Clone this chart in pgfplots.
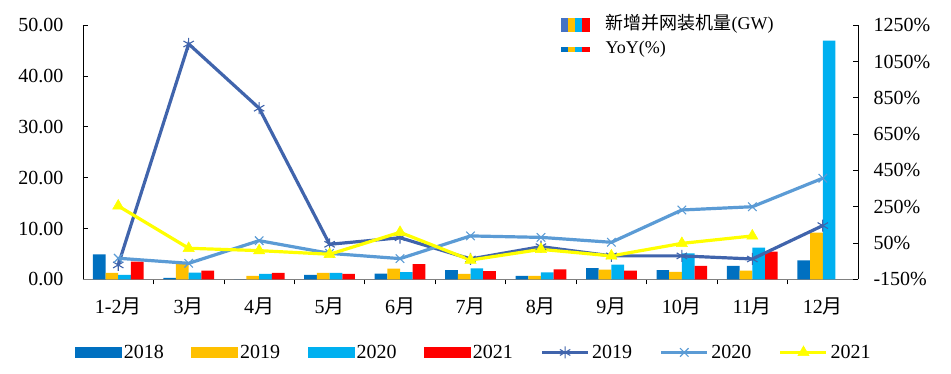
\documentclass[border=0pt]{standalone}
\usepackage{pgfplots}
\pgfplotsset{compat=1.18}
\usepackage{fontspec}
\setmainfont{Liberation Serif}
\newfontfamily\cjk{Noto Sans CJK SC}
\definecolor{c18}{HTML}{0070C0}
\definecolor{c19}{HTML}{FFC000}
\definecolor{c20}{HTML}{00B0F0}
\definecolor{c21}{HTML}{FF0000}
\definecolor{l19}{HTML}{4064AC}
\definecolor{l20}{HTML}{5B9BD5}
\definecolor{l21}{HTML}{FFFF00}
\definecolor{lb}{HTML}{4472C4}
\pgfplotsset{mylinelegend/.style={legend image code/.code={\draw[mark repeat=2,mark phase=2,##1] plot coordinates {(0pt,0pt) (23pt,0pt) (46pt,0pt)};}}}
\begin{document}
\begin{tikzpicture}[font=\fontsize{20}{24}\selectfont]
\path[use as bounding box] (-83pt,-94.7pt) rectangle (868pt,279.3pt);
% ---- bars, left axis
\begin{axis}[
  at={(0pt,0pt)}, anchor=south west,
  scale only axis, width=775pt, height=254pt,
  xmin=-0.5, xmax=10.5, ymin=0, ymax=50,
  axis x line*=bottom, axis y line*=left,
  x axis line style={-, draw=black!50, line width=1pt},
  y axis line style={-, draw=black, line width=0.8pt},
  tick align=inside, major tick length=5pt, minor tick length=5pt,
  tick style={black, line width=0.8pt},
  every major x tick/.append style={draw=none},
  ytick={0,10,...,50},
  xtick={0,...,10},
  minor xtick={0.5,1.5,...,9.5},
  xticklabels={1-2{\cjk 月},3{\cjk 月},4{\cjk 月},5{\cjk 月},6{\cjk 月},7{\cjk 月},8{\cjk 月},9{\cjk 月},10{\cjk 月},11{\cjk 月},12{\cjk 月}},
  tick label style={font=\fontsize{20}{24}\selectfont},
  /pgf/number format/assume math mode=true,
  yticklabel style={/pgf/number format/fixed, /pgf/number format/fixed zerofill, /pgf/number format/precision=2, xshift=-16pt},
  xticklabel style={yshift=-10pt},
  ybar=0pt, bar width=0.18,
  clip=false,
]
\addplot[fill=c18, draw=none] coordinates {(0,4.9) (1,0.3) (2,0) (3,0.85) (4,1.1) (5,1.83) (6,0.65) (7,2.22) (8,1.83) (9,2.62) (10,3.74)};
\addplot[fill=c19, draw=none] coordinates {(0,1.25) (1,3.0) (2,0.65) (3,1.25) (4,2.1) (5,1.05) (6,0.65) (7,1.9) (8,1.44) (9,1.7) (10,9.17)};
\addplot[fill=c20, draw=none] coordinates {(0,0.85) (1,1.3) (2,1.05) (3,1.25) (4,1.4) (5,2.17) (6,1.38) (7,2.88) (8,5.1) (9,6.22) (10,46.97)};
\addplot[fill=c21, draw=none] coordinates {(0,3.47) (1,1.7) (2,1.25) (3,1.05) (4,3.0) (5,1.63) (6,1.97) (7,1.7) (8,2.62) (9,5.43)};
\end{axis}
% ---- YoY lines, right axis
\begin{axis}[
  at={(0pt,0pt)}, anchor=south west,
  scale only axis, width=775pt, height=254pt,
  xmin=-0.5, xmax=10.5, ymin=-150, ymax=1250,
  axis y line*=right, axis x line=none,
  y axis line style={-, draw=black, line width=0.8pt},
  tick align=inside, major tick length=5pt,
  tick style={black, line width=0.8pt},
  ytick={-150,50,250,450,650,850,1050,1250},
  /pgf/number format/assume math mode=true,
  /pgf/number format/1000 sep={},
  yticklabel={\pgfmathprintnumber[fixed,precision=0]{\tick}\%},
  yticklabel style={xshift=12pt},
  tick label style={font=\fontsize{20}{24}\selectfont},
  clip=false,
  legend columns=7,
  legend style={at={(0.5045,-0.288)}, anchor=center, draw=none, fill=none,
    font=\fontsize{20}{24}\selectfont,
    nodes={inner sep=2.5pt},
    /tikz/every even column/.append style={column sep=25pt}},
]
\addlegendimage{legend image code/.code={\fill[c18] (0pt,-5.2pt) rectangle (46pt,5.2pt);}}
\addlegendentry{2018}
\addlegendimage{legend image code/.code={\fill[c19] (0pt,-5.2pt) rectangle (46pt,5.2pt);}}
\addlegendentry{2019}
\addlegendimage{legend image code/.code={\fill[c20] (0pt,-5.2pt) rectangle (46pt,5.2pt);}}
\addlegendentry{2020}
\addlegendimage{legend image code/.code={\fill[c21] (0pt,-5.2pt) rectangle (46pt,5.2pt);}}
\addlegendentry{2021}
\addplot[l19, line width=3.2pt, mark=asterisk, mark size=6pt, mark options={line width=1.1pt}, mylinelegend]
  coordinates {(0,-71) (1,1147) (2,793) (3,43) (4,79) (5,-38) (6,30) (7,-21) (8,-21) (9,-38) (10,146)};
\addlegendentry{2019}
\addplot[l20, line width=3.2pt, mark=x, mark size=6pt, mark options={line width=1.1pt}, mylinelegend]
  coordinates {(0,-34) (1,-62) (2,63) (3,-7) (4,-36) (5,89) (6,81) (7,54) (8,232) (9,250) (10,407)};
\addlegendentry{2020}
\addplot[l21, line width=3.2pt, mark=triangle*, mark size=6.5pt, mark options={line width=0.5pt}, mylinelegend]
  coordinates {(0,254) (1,21) (2,8) (3,-12) (4,109) (5,-44) (6,15) (7,-21) (8,48) (9,89)};
\addlegendentry{2021}
\end{axis}
% ---- top legend
\begin{axis}[
  at={(0pt,0pt)}, anchor=south west,
  scale only axis, width=775pt, height=254pt,
  xmin=0, xmax=1, ymin=0, ymax=1, hide axis,
  legend columns=1, legend cell align=left,
  legend style={at={(0.6168,1.0327)}, anchor=north west, draw=none, fill=none,
    inner sep=0pt, font=\fontsize{18}{22}\selectfont,
    nodes={inner sep=0pt, text height=12pt, text depth=4pt},
    row sep=8pt,
    /tikz/every odd column/.append style={column sep=16pt}},
]
\addlegendimage{legend image code/.code={
  \fill[lb] (0pt,-6.5pt) rectangle (7pt,6.5pt);
  \fill[c19] (7pt,-6.5pt) rectangle (14pt,6.5pt);
  \fill[c20] (14pt,-6.5pt) rectangle (21pt,6.5pt);
  \fill[c21] (21pt,-6.5pt) rectangle (28pt,6.5pt);}}
\addlegendentry{{\cjk 新增并网装机量}(GW)}
\addlegendimage{legend image code/.code={
  \fill[c18] (0pt,-2pt) rectangle (7pt,2pt);
  \fill[c19] (7pt,-2pt) rectangle (14pt,2pt);
  \fill[c20] (14pt,-2pt) rectangle (21pt,2pt);
  \fill[c21] (21pt,-2pt) rectangle (28pt,2pt);}}
\addlegendentry{YoY(\%)}
\end{axis}
\end{tikzpicture}
\end{document}
